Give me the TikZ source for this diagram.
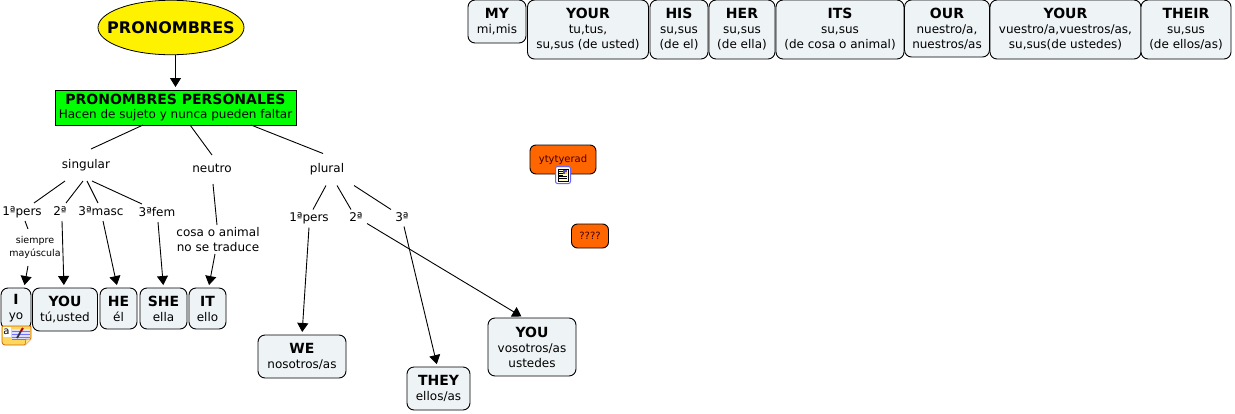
\documentclass[tikz,border=0pt]{standalone}
\usepackage{fontspec}
\setmainfont{DejaVu Sans}
\usetikzlibrary{arrows.meta,shapes.geometric}
\definecolor{boxfill}{HTML}{EEF3F6}
\definecolor{orangefill}{HTML}{FF6600}
\definecolor{notey}{HTML}{FFD75E}
\newcommand{\ttl}[1]{{\fontsize{14}{16.5}\selectfont\bfseries #1}}
\tikzset{
 x=1pt,y=-1pt,
 every node/.style={inner sep=0pt,outer sep=0pt,font=\fontsize{12}{15}\selectfont},
 pbox/.style={draw=black,line width=0.9pt,fill=boxfill,rounded corners=7pt,align=center},
 lab/.style={text height=9pt,text depth=3pt,minimum height=#1},
 lab/.default=18pt,
 multilab/.style={align=center,minimum height=29pt},
 smalllab/.style={align=center,minimum height=37pt,font=\fontsize{9.5}{12.5}\selectfont},
 orangebox/.style={draw=black,line width=0.9pt,fill=orangefill,rounded corners=6pt,font=\fontsize{10}{12}\selectfont,text=black!75!red},
 link/.style={line width=0.9pt,draw=black},
 arrowlink/.style={link,-{Triangle[length=9pt,width=11pt]},shorten >=3pt},
}
\begin{document}
\begin{tikzpicture}
\useasboundingbox (0,0) rectangle (1235,413);
\fill[white] (0,0) rectangle (1235,413);
% main nodes
\node[ellipse,draw=black,line width=0.8pt,fill=yellow,minimum width=146pt,minimum height=54.5pt] (root) at (171,27.5) {\makebox[0pt][c]{\smash{\raisebox{-5.8pt}{\fontsize{16}{18}\selectfont\bfseries PRONOMBRES}}}};
\node[draw=black,line width=1pt,fill=green,minimum width=241pt,minimum height=35pt,align=center] (pers) at (175.5,107.5) {\ttl{PRONOMBRES PERSONALES}\\[-0.5pt]Hacen de sujeto y nunca pueden faltar};
% labels
\node[lab=32pt] (sing) at (86,165) {singular};
\node[lab=29pt] (neut) at (212,169.5) {neutro};
\node[lab=32pt] (plur) at (327,169.5) {plural};
\node[lab] (p1) at (22,212) {1ªpers};
\node[lab] (p2) at (60,212) {2ª};
\node[lab] (p3m) at (101,212) {3ªmasc};
\node[lab] (p3f) at (157,213) {3ªfem};
\node[smalllab] (always) at (35,247.5) {siempre\\mayúscula};
\node[multilab] (thing) at (218,239.5) {cosa o animal\\no se traduce};
\node[lab] (q1) at (309,218.5) {1ªpers};
\node[lab] (q2) at (356,218.5) {2ª};
\node[lab] (q3) at (402,218.5) {3ª};
% pronoun boxes
\node[pbox,minimum width=30pt,minimum height=41pt] (I) at (16,308.5) {\ttl{I}\\yo};
\node[pbox,minimum width=65pt,minimum height=43pt] (you) at (65,309.5) {\ttl{YOU}\\tú,usted};
\node[pbox,minimum width=37pt,minimum height=41pt] (he) at (118.5,308.5) {\ttl{HE}\\él};
\node[pbox,minimum width=47pt,minimum height=41pt] (she) at (163.5,308.5) {\ttl{SHE}\\ella};
\node[pbox,minimum width=37pt,minimum height=41pt] (it) at (207.5,308.5) {\ttl{IT}\\ello};
\node[pbox,minimum width=88pt,minimum height=43pt] (we) at (302,356.5) {\ttl{WE}\\nosotros/as};
\node[pbox,minimum width=63pt,minimum height=43pt] (they) at (438.5,388.5) {\ttl{THEY}\\ellos/as};
\node[pbox,minimum width=88pt,minimum height=58pt] (youp) at (532,347) {\ttl{YOU}\\vosotros/as\\ustedes};
% possessive boxes
\node[pbox,minimum width=58pt,minimum height=43pt] (my) at (497,21.5) {\ttl{MY}\\mi,mis};
\node[pbox,minimum width=121pt,minimum height=59pt] (your) at (588,29.5) {\ttl{YOUR}\\tu,tus,\\su,sus (de usted)};
\node[pbox,minimum width=58pt,minimum height=59pt] (his) at (679,29.5) {\ttl{HIS}\\su,sus\\(de el)};
\node[pbox,minimum width=66pt,minimum height=59pt] (her) at (742,29.5) {\ttl{HER}\\su,sus\\(de ella)};
\node[pbox,minimum width=128pt,minimum height=59pt] (its) at (840,29.5) {\ttl{ITS}\\su,sus\\(de cosa o animal)};
\node[pbox,minimum width=85pt,minimum height=57pt] (our) at (947,28.5) {\ttl{OUR}\\nuestro/a,\\nuestros/as};
\node[pbox,minimum width=151pt,minimum height=59pt] (yourp) at (1065.5,29.5) {\ttl{YOUR}\\vuestro/a,vuestros/as,\\su,sus(de ustedes)};
\node[pbox,minimum width=90pt,minimum height=59pt] (their) at (1186,29.5) {\ttl{THEIR}\\su,sus\\(de ellos/as)};
% orange
\node[orangebox,minimum width=66pt,minimum height=29pt] (yty) at (563,159.5) {ytytyerad};
\node[orangebox,minimum width=37pt,minimum height=24pt] (qq) at (590,236) {????};
% connectors
\draw[arrowlink] (root.south -| pers.north) -- (pers.north);
\foreach \a/\ax/\b/\bx in {pers/-32.5/sing/5,pers/14.5/neut/0,pers/75.5/plur/-4,
  sing/-21/p1/12,sing/-3/p2/6,sing/1/p3m/-3,sing/6/p3f/-15,
  plur/-1/q1/4,plur/10/q2/-5,plur/27/q3/-11,
  p1/3/always/-7,neut/1/thing/-1}
  \draw[link] ([xshift=\ax pt]\a.south) -- ([xshift=\bx pt]\b.north);
\foreach \a/\ax/\ay/\b/\bx in {always/-7/0/I/8,p2/2/0/you/-1,p3m/2/0/he/-1,p3f/1/0/she/0,thing/-3/0/it/1,
  q1/0/0/we/0,q2/11/4/youp/-8,q3/2/1/they/-1}
  \draw[arrowlink] ([xshift=\ax pt,yshift=\ay pt]\a.south) -- ([xshift=\bx pt]\b.north);
% note icon
\draw[draw=orange!80!black,fill=notey,line width=0.8pt,rounded corners=1pt] (2,326) -- (31,326) -- (31,339) -- (25,345) -- (4,345) -- (2,343) -- cycle;
\fill[white] (3,327) rectangle (11,337);
\fill[blue!12!white] (12,329) rectangle (30,340);
\foreach \yy in {331,334,337,339.5} \draw[blue!55!white,line width=0.8pt] (12,\yy) -- (30,\yy);
\draw[black!80,line width=1.8pt] (17,338) -- (21,331);
\draw[red!70!black,line width=2pt] (21,331) -- (23,328);
\draw[orange!80!black,fill=notey!70!white,line width=0.5pt] (31,339) -- (26,339) -- (25,345);
\node[font=\fontsize{10}{10}\selectfont] (notea) at (6.5,332) {a};
% document icon
\draw[draw=blue!60!white,fill=white,line width=1pt,rounded corners=2pt] (555.5,166.5) rectangle (570.5,183.5);
\draw[black,fill=yellow!25!white,line width=0.6pt] (558,169) rectangle (568,181);
\fill[blue!40!gray] (563,170) rectangle (567,174);
\fill[orange!60!white] (565,172) rectangle (567,174);
\foreach \yy in {171,173,175} \draw[black,line width=0.5pt] (559,\yy) -- (562.5,\yy);
\foreach \yy in {176.5,178.5} \draw[black,line width=0.5pt] (559,\yy) -- (567,\yy);
\end{tikzpicture}
\end{document}
